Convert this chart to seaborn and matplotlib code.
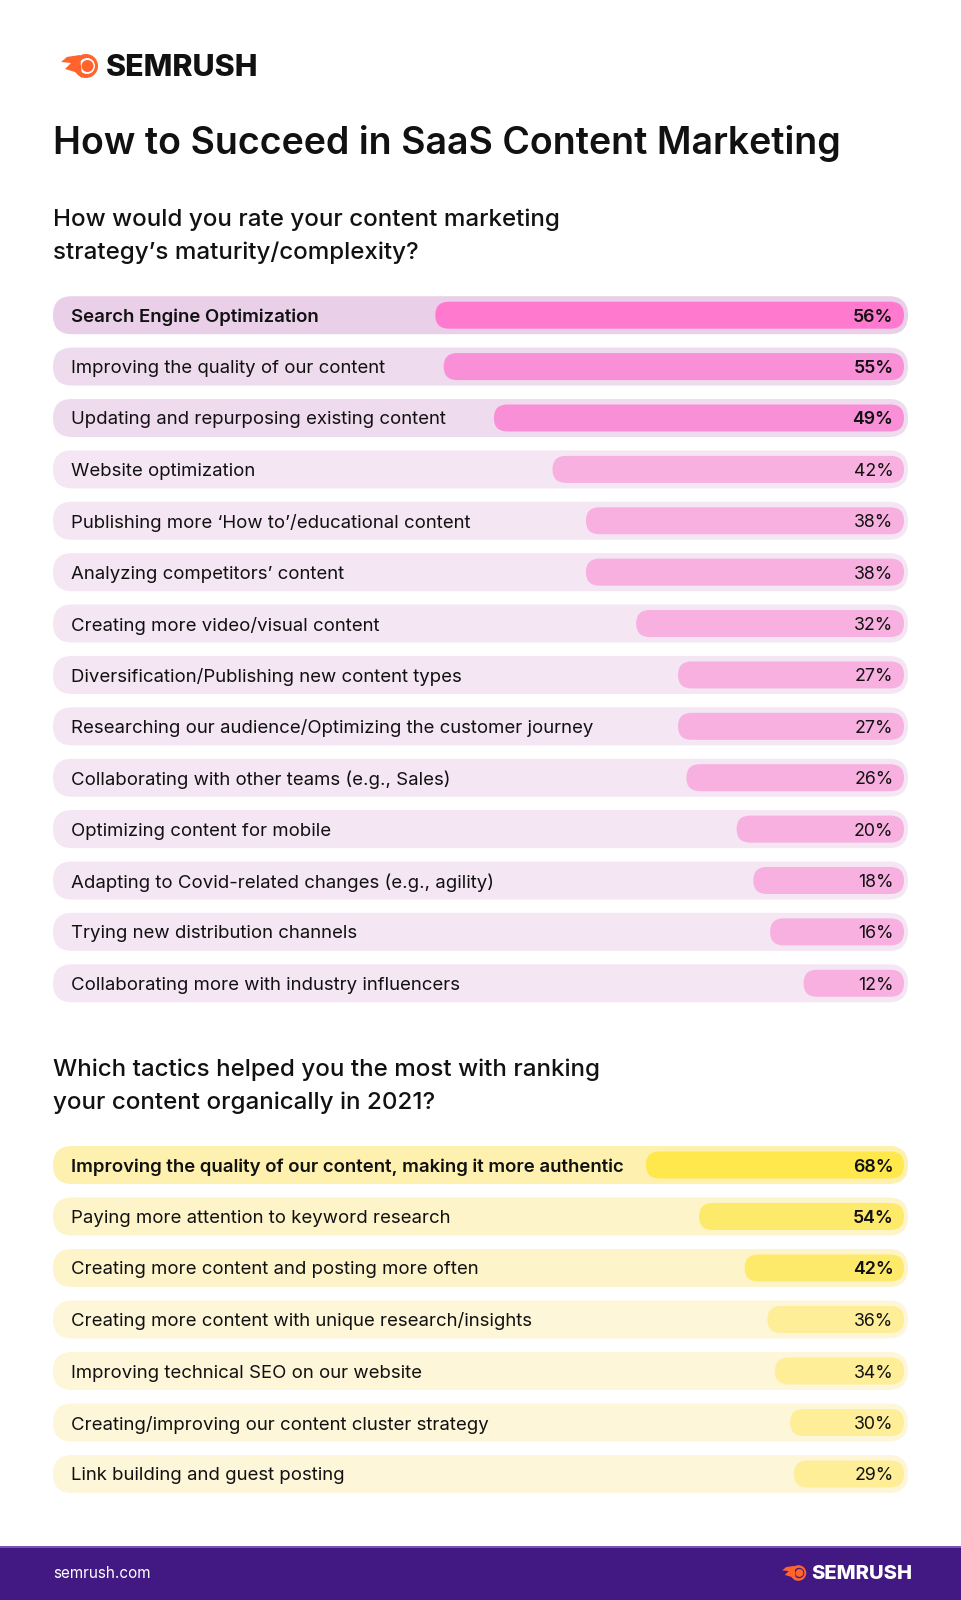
import matplotlib
matplotlib.use("Agg")
import matplotlib.pyplot as plt
import seaborn as sns
import pandas as pd
from matplotlib.patches import FancyBboxPatch, Circle, Polygon, Rectangle

# ---------------- data ----------------
title = "How to Succeed in SaaS Content Marketing"
q1 = "How would you rate your content marketing\nstrategy’s maturity/complexity?"
q2 = "Which tactics helped you the most with ranking\nyour content organically in 2021?"

cats1 = ["Search Engine Optimization",
         "Improving the quality of our content",
         "Updating and repurposing existing content",
         "Website optimization",
         "Publishing more ‘How to’/educational content",
         "Analyzing competitors’ content",
         "Creating more video/visual content",
         "Diversification/Publishing new content types",
         "Researching our audience/Optimizing the customer journey",
         "Collaborating with other teams (e.g., Sales)",
         "Optimizing content for mobile",
         "Adapting to Covid-related changes (e.g., agility)",
         "Trying new distribution channels",
         "Collaborating more with industry influencers"]
vals1 = [56, 55, 49, 42, 38, 38, 32, 27, 27, 26, 20, 18, 16, 12]

cats2 = ["Improving the quality of our content, making it more authentic",
         "Paying more attention to keyword research",
         "Creating more content and posting more often",
         "Creating more content with unique research/insights",
         "Improving technical SEO on our website",
         "Creating/improving our content cluster strategy",
         "Link building and guest posting"]
vals2 = [68, 54, 42, 36, 34, 30, 29]

# ---------------- setup ----------------
sns.set_theme(style="white")
plt.rcParams['font.family'] = ['Inter', 'DejaVu Sans']

W, H = 962, 1600
fig = plt.figure(figsize=(W / 100, H / 100), dpi=100)
fig.patch.set_facecolor("white")
bg = fig.add_axes([0, 0, 1, 1])
bg.set_xlim(0, W)
bg.set_ylim(H, 0)
bg.axis("off")

TXT = "#111111"
LABEL_FS = 13.4


def px_axes(x0, y0, x1, y1):
    return fig.add_axes([x0 / W, 1 - y1 / H, (x1 - x0) / W, (y1 - y0) / H])


def chart(cats, vals, y_first, step, ppp, bgcols, barcols, lab_w, val_w):
    n = len(cats)
    pill_l, pill_r, zero_px = 53, 908, 904
    pill_h, bar_h = 38, 27
    # pill backgrounds
    for i in range(n):
        yc = y_first + i * step
        bg.add_patch(FancyBboxPatch((pill_l, yc - pill_h / 2), pill_r - pill_l, pill_h,
                                    boxstyle=f"round,pad=0,rounding_size={pill_h/2}",
                                    fc=bgcols[i], ec="none", zorder=1))
    top = y_first - step / 2
    bottom = y_first + (n - 0.5) * step
    ax = px_axes(pill_l, top, pill_r, bottom)
    df = pd.DataFrame({"cat": cats, "val": vals})
    sns.barplot(data=df, x="val", y="cat", hue="cat", palette=barcols, legend=False,
                orient="h", width=bar_h / step, ax=ax, saturation=1)
    ax.set_xlim((zero_px - pill_l) / ppp, (zero_px - pill_r) / ppp)
    ax.set_ylim(n - 0.5, -0.5)
    ax.axis("off")
    r_x = (bar_h / 2) / ppp
    aspect = ppp / step
    for p in list(ax.patches):
        x, y, w, h = p.get_x(), p.get_y(), p.get_width(), p.get_height()
        fc = p.get_facecolor()
        p.remove()
        ax.add_patch(FancyBboxPatch((x, y), w, h,
                                    boxstyle=f"round,pad=0,rounding_size={r_x}",
                                    mutation_aspect=aspect, fc=fc, ec="none"))
    for i in range(n):
        yc = y_first + i * step
        bg.text(71.5, yc, cats[i], ha="left", va="center_baseline", fontsize=LABEL_FS,
                color=TXT, fontweight=lab_w[i], zorder=3)
        ax.text(893.5, yc, f"{vals[i]}%", ha="right", va="center_baseline",
                fontsize=12.8, color=TXT, fontweight=val_w[i], zorder=5,
                transform=bg.transData, clip_on=False)
    return ax


# pink chart
bg1 = ["#E9CFE8", "#EFDBEE", "#EFDBEE"] + ["#F4E6F3"] * 11
bar1 = ["#FF7ACF", "#F98FD6", "#F98FD6"] + ["#F7B0E0"] * 11
ax1 = chart(cats1, vals1, 315.2, 51.39, 8.37, bg1, bar1,
            ["semibold"] + ["normal"] * 13,
            ["semibold"] * 3 + ["normal"] * 11)

# yellow chart
bg2 = ["#FEF0AE", "#FEF4CA", "#FEF4CA"] + ["#FEF6D8"] * 4
bar2 = ["#FFE84C", "#FEEA6A", "#FEEA6A"] + ["#FDEE97"] * 4
ax2 = chart(cats2, vals2, 1165.0, 51.5, 3.795, bg2, bar2,
            ["semibold"] + ["normal"] * 6,
            ["semibold"] * 3 + ["normal"] * 4)

# ---------------- titles ----------------
bg.text(53, 143, title, ha="left", va="center", fontsize=27, fontweight="semibold", color=TXT)
bg.text(53, 236, q1, ha="left", va="center", fontsize=17.4, fontweight="medium", color=TXT,
        linespacing=1.58)
bg.text(53, 1086, q2, ha="left", va="center", fontsize=17.4, fontweight="medium", color=TXT,
        linespacing=1.58)


# ---------------- logos ----------------
def logo(x0, yc, scale, text_color, fs, inner):
    orange = "#FF642D"
    cx = x0 + 33 * scale
    bg.add_patch(Circle((cx, yc), 12 * scale, fc=orange, ec="none"))
    bg.add_patch(Circle((cx + 1 * scale, yc), 8 * scale, fc=inner, ec="none"))
    bg.add_patch(Circle((cx + 1.5 * scale, yc), 6 * scale, fc=orange, ec="none"))
    bg.add_patch(Polygon([(x0, yc - 7 * scale), (x0 + 14 * scale, yc - 9 * scale),
                          (x0 + 8 * scale, yc - 4 * scale), (x0 + 18 * scale, yc - 3 * scale),
                          (x0 + 12 * scale, yc + 3 * scale), (x0 + 22 * scale, yc + 6 * scale),
                          (cx - 4 * scale, yc + 12 * scale), (cx - 6 * scale, yc - 11 * scale)],
                         closed=True, fc=orange, ec="none"))
    bg.text(x0 + 53 * scale, yc + 2 * scale, "SEMRUSH", ha="left", va="center", fontsize=fs,
            fontweight="heavy", color=text_color)


logo(53, 66, 1.0, TXT, 21.9, "white")

# ---------------- footer ----------------
bg.add_patch(Rectangle((0, 1547), W, 53, fc="#421983", ec="none"))
bg.add_patch(Rectangle((0, 1546), W, 1.5, fc="#7A55B5", ec="none"))
bg.text(53, 1574, "semrush.com", ha="left", va="center", fontsize=11, color="white")
logo(777, 1573, 0.65, "white", 14.5, "#421983")

fig.savefig("out.png", dpi=100, facecolor="white")
